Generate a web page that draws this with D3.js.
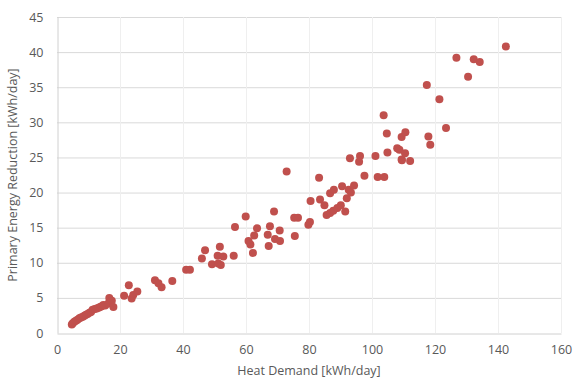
<!DOCTYPE html>
<html><head><meta charset="utf-8">
<script src="https://cdn.jsdelivr.net/npm/d3@7"></script>
<style>body{margin:0;background:#fff}svg{display:block}text{font-family:"Open Sans","Liberation Sans",sans-serif;fill:#595959}</style>
</head><body><div id="c"></div>
<script>
const xTicks=[0,20,40,60,80,100,120,140,160];
const yTicks=[0,5,10,15,20,25,30,35,40,45];
const heatDemand=[4.7,5.0,5.5,6.0,6.5,7.1,7.6,8.2,8.7,9.2,9.7,10.3,10.8,11.3,12.0,12.6,13.2,13.7,14.2,14.7,15.3,16.3,16.6,17.4,17.9,
21.3,22.8,23.7,24.2,25.5,31.1,32.2,33.2,36.6,41.0,42.2,
46.0,47.0,49.2,51.0,51.2,51.7,52.0,52.8,56.1,56.5,59.9,60.8,61.4,62.2,62.6,63.5,66.9,67.2,67.6,68.9,69.2,70.7,70.8,72.9,75.3,75.5,76.5,
79.8,80.3,80.5,83.2,83.5,84.9,85.6,86.7,86.7,87.7,87.9,89.0,90.1,90.5,91.5,92.0,92.6,93.0,93.3,94.3,95.9,96.2,97.6,101.1,101.8,103.7,103.9,104.7,104.9,
108.0,108.7,109.4,109.4,109.5,110.5,110.6,112.1,117.4,117.9,118.5,121.4,123.5,126.8,130.5,132.3,134.2,142.5];
const energyReduction=[1.2,1.4,1.6,1.75,1.9,2.1,2.2,2.3,2.45,2.6,2.7,2.9,3.0,3.3,3.4,3.5,3.6,3.7,3.8,4.0,3.9,4.2,5.0,4.6,3.7,
5.3,6.8,4.9,5.4,5.9,7.5,7.1,6.5,7.4,9.0,9.0,
10.6,11.8,9.8,11.0,9.9,12.3,9.7,10.9,11.0,15.1,16.6,13.1,12.6,11.4,13.9,14.9,14.0,12.4,15.2,17.3,13.4,14.6,13.1,23.0,16.4,13.8,16.4,
15.4,15.8,18.8,22.1,19.0,18.2,16.8,19.9,17.1,17.4,20.4,17.8,18.2,20.9,17.3,19.2,20.4,24.9,20.0,21.0,24.4,25.2,22.4,25.2,22.2,31.0,22.2,28.4,25.7,
26.3,26.1,27.9,24.7,24.6,25.6,28.6,24.5,35.3,28.0,26.8,33.3,29.2,39.2,36.5,39.0,38.6,40.8];
const W=574,H=381;
const svg=d3.select("#c").append("svg").attr("width",W).attr("height",H);
const x=d3.scaleLinear().domain([0,160]).range([57,561]);
const y=d3.scaleLinear().domain([0,45]).range([333,17]);
// gridlines
svg.append("g").selectAll("line").data(yTicks.slice(1)).join("line")
 .attr("x1",57).attr("x2",561).attr("y1",d=>y(d)+0.5).attr("y2",d=>y(d)+0.5).attr("stroke","#d9d9d9");
svg.append("g").selectAll("line").data(xTicks.slice(1)).join("line")
 .attr("y1",17).attr("y2",333).attr("x1",d=>x(d)+0.5).attr("x2",d=>x(d)+0.5).attr("stroke","#efefef");
// axes
const xa=svg.append("g").attr("transform","translate(0,333.5)").call(d3.axisBottom(x).tickValues(xTicks).tickSize(0).tickPadding(12));
const ya=svg.append("g").attr("transform","translate(57.5,0)").call(d3.axisLeft(y).tickValues(yTicks).tickSize(0).tickPadding(14));
[xa,ya].forEach(a=>{a.select(".domain").attr("stroke","#d0d0d0");a.selectAll("text").style("font-size","12.5px").attr("fill","#595959");});
// points
const pts=heatDemand.map((d,i)=>[d,energyReduction[i]]);
svg.append("g").selectAll("circle").data(pts).join("circle")
 .attr("cx",d=>x(d[0])).attr("cy",d=>y(d[1])).attr("r",4).attr("fill","#C0504D");
// titles
svg.append("text").attr("x",309).attr("y",375).attr("text-anchor","middle").style("font-size","12.5px").text("Heat Demand [kWh/day]");
svg.append("text").attr("transform","translate(17,175) rotate(-90)").attr("text-anchor","middle").style("font-size","12.5px").text("Primary Energy Reduction [kWh/day]");
</script></body></html>
